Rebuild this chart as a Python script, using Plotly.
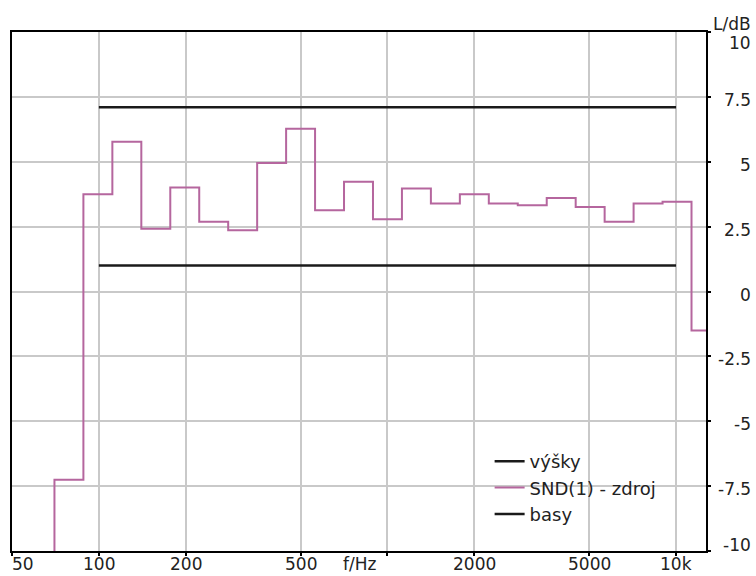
import math
import plotly.graph_objects as go

# ---------------- data ----------------
# 1/3-octave band nominal centre frequencies (Hz) and measured level (dB)
band_centres = [63, 80, 100, 125, 160, 200, 250, 315, 400, 500, 630, 800, 1000,
                1250, 1600, 2000, 2500, 3150, 4000, 5000, 6300, 8000, 10000, 12500]
snd_levels = [-12.0, -7.25, 3.75, 5.77, 2.42, 4.01, 2.69, 2.36, 4.95, 6.27, 3.13, 4.23, 2.78,
              3.97, 3.39, 3.75, 3.39, 3.32, 3.60, 3.26, 2.69, 3.39, 3.46, -1.50]

# tolerance lines
vysky_f = [100, 10000]
vysky_level = [7.1, 7.1]
basy_f = [100, 10000]
basy_level = [1.0, 1.0]

# axes
x_tick_vals = [50, 100, 200, 500, 1000, 2000, 5000, 10000]
x_tick_text = ["50", "100", "200", "500", "", "2000", "5000", "10k"]
y_tick_vals = [10, 7.5, 5, 2.5, 0, -2.5, -5, -7.5, -10]
y_tick_text = ["10", "7.5", "5", "2.5", "0", "-2.5", "-5", "-7.5", "-10"]
x_title = "f/Hz"
y_title = "L/dB"
series_names = ["výšky", "SND(1) - zdroj", "basy"]

# ------------- build step edges (exact 1/3-octave band limits) -------------
def band_index(fc):
    return round(3 * math.log2(fc / 1000.0))

edges_lo = [1000.0 * 2 ** ((band_index(c) - 0.5) / 3) for c in band_centres]
edge_hi_last = 1000.0 * 2 ** ((band_index(band_centres[-1]) + 0.5) / 3)
step_x = edges_lo + [edge_hi_last]
step_y = snd_levels + [snd_levels[-1]]

FONT = "DejaVu Sans"
TXT = "#222222"
MAG = "#b5669e"

fig = go.Figure()
fig.add_trace(go.Scatter(x=vysky_f, y=vysky_level, mode="lines", name=series_names[0],
                         line=dict(color="#1a1a1a", width=2.5)))
fig.add_trace(go.Scatter(x=step_x, y=step_y, mode="lines", name=series_names[1],
                         line=dict(color=MAG, width=2, shape="hv")))
fig.add_trace(go.Scatter(x=basy_f, y=basy_level, mode="lines", name=series_names[2],
                         line=dict(color="#1a1a1a", width=2.5)))

L, R, T, B = 10, 50, 32, 25
W, H = 756, 576
pw, ph = W - L - R, H - T - B

def px_x(p):
    return (p - L) / pw

def px_y(p):
    return (H - B - p) / ph

annotations = []
# x tick labels
for v, t in zip(x_tick_vals, x_tick_text):
    if not t:
        continue
    annotations.append(dict(x=math.log10(v), xref="x", y=px_y(575.5), yref="paper",
                            text=t, showarrow=False,
                            xanchor="left" if v == x_tick_vals[0] else "center",
                            xshift=-2 if v == x_tick_vals[0] else 0,
                            yanchor="bottom", font=dict(family=FONT, size=17, color=TXT)))
annotations.append(dict(x=math.log10(800), xref="x", y=px_y(575.5), yref="paper",
                        text=x_title, showarrow=False, xanchor="center", yanchor="bottom",
                        font=dict(family=FONT, size=17, color=TXT)))
# y tick labels
for v, t in zip(y_tick_vals, y_tick_text):
    if v == y_tick_vals[0]:
        ys = -11
    elif v == y_tick_vals[-1]:
        ys = 6
    else:
        ys = -3
    annotations.append(dict(x=px_x(753), xref="paper", y=v, yref="y", yshift=ys,
                            text=t, showarrow=False, xanchor="right", yanchor="middle",
                            font=dict(family=FONT, size=17, color=TXT)))
annotations.append(dict(x=px_x(753), xref="paper", y=px_y(24), yref="paper",
                        text=y_title, showarrow=False, xanchor="right", yanchor="middle",
                        font=dict(family=FONT, size=17, color=TXT)))

fig.update_layout(
    width=W, height=H,
    margin=dict(l=L, r=R, t=T, b=B, pad=0),
    paper_bgcolor="white", plot_bgcolor="white",
    showlegend=True,
    legend=dict(x=px_x(489), y=px_y(443), xanchor="left", yanchor="top",
                bgcolor="rgba(255,255,255,0)", borderwidth=0,
                font=dict(family=FONT, size=18, color=TXT),
                itemwidth=30, tracegroupgap=0),
    annotations=annotations,
    shapes=[dict(type="rect", xref="paper", yref="paper",
                 x0=px_x(477), x1=px_x(673), y0=px_y(541), y1=px_y(443),
                 fillcolor="white", line=dict(width=0), layer="between")],
    xaxis=dict(type="log", range=[math.log10(50), math.log10(12700)],
               tickvals=x_tick_vals, showticklabels=False,
               ticks="outside", ticklen=3, tickwidth=2, tickcolor="black",
               showgrid=True, gridcolor="#c9c9c9", gridwidth=1.5,
               showline=True, linecolor="black", linewidth=2, mirror=True,
               zeroline=False),
    yaxis=dict(side="right", range=[-10, 10], tickvals=y_tick_vals, showticklabels=False,
               ticks="outside", ticklen=3, tickwidth=2, tickcolor="black",
               showgrid=True, gridcolor="#c9c9c9", gridwidth=1.5,
               showline=True, linecolor="black", linewidth=2, mirror=True,
               zeroline=False),
)

fig.write_html("out.html")
